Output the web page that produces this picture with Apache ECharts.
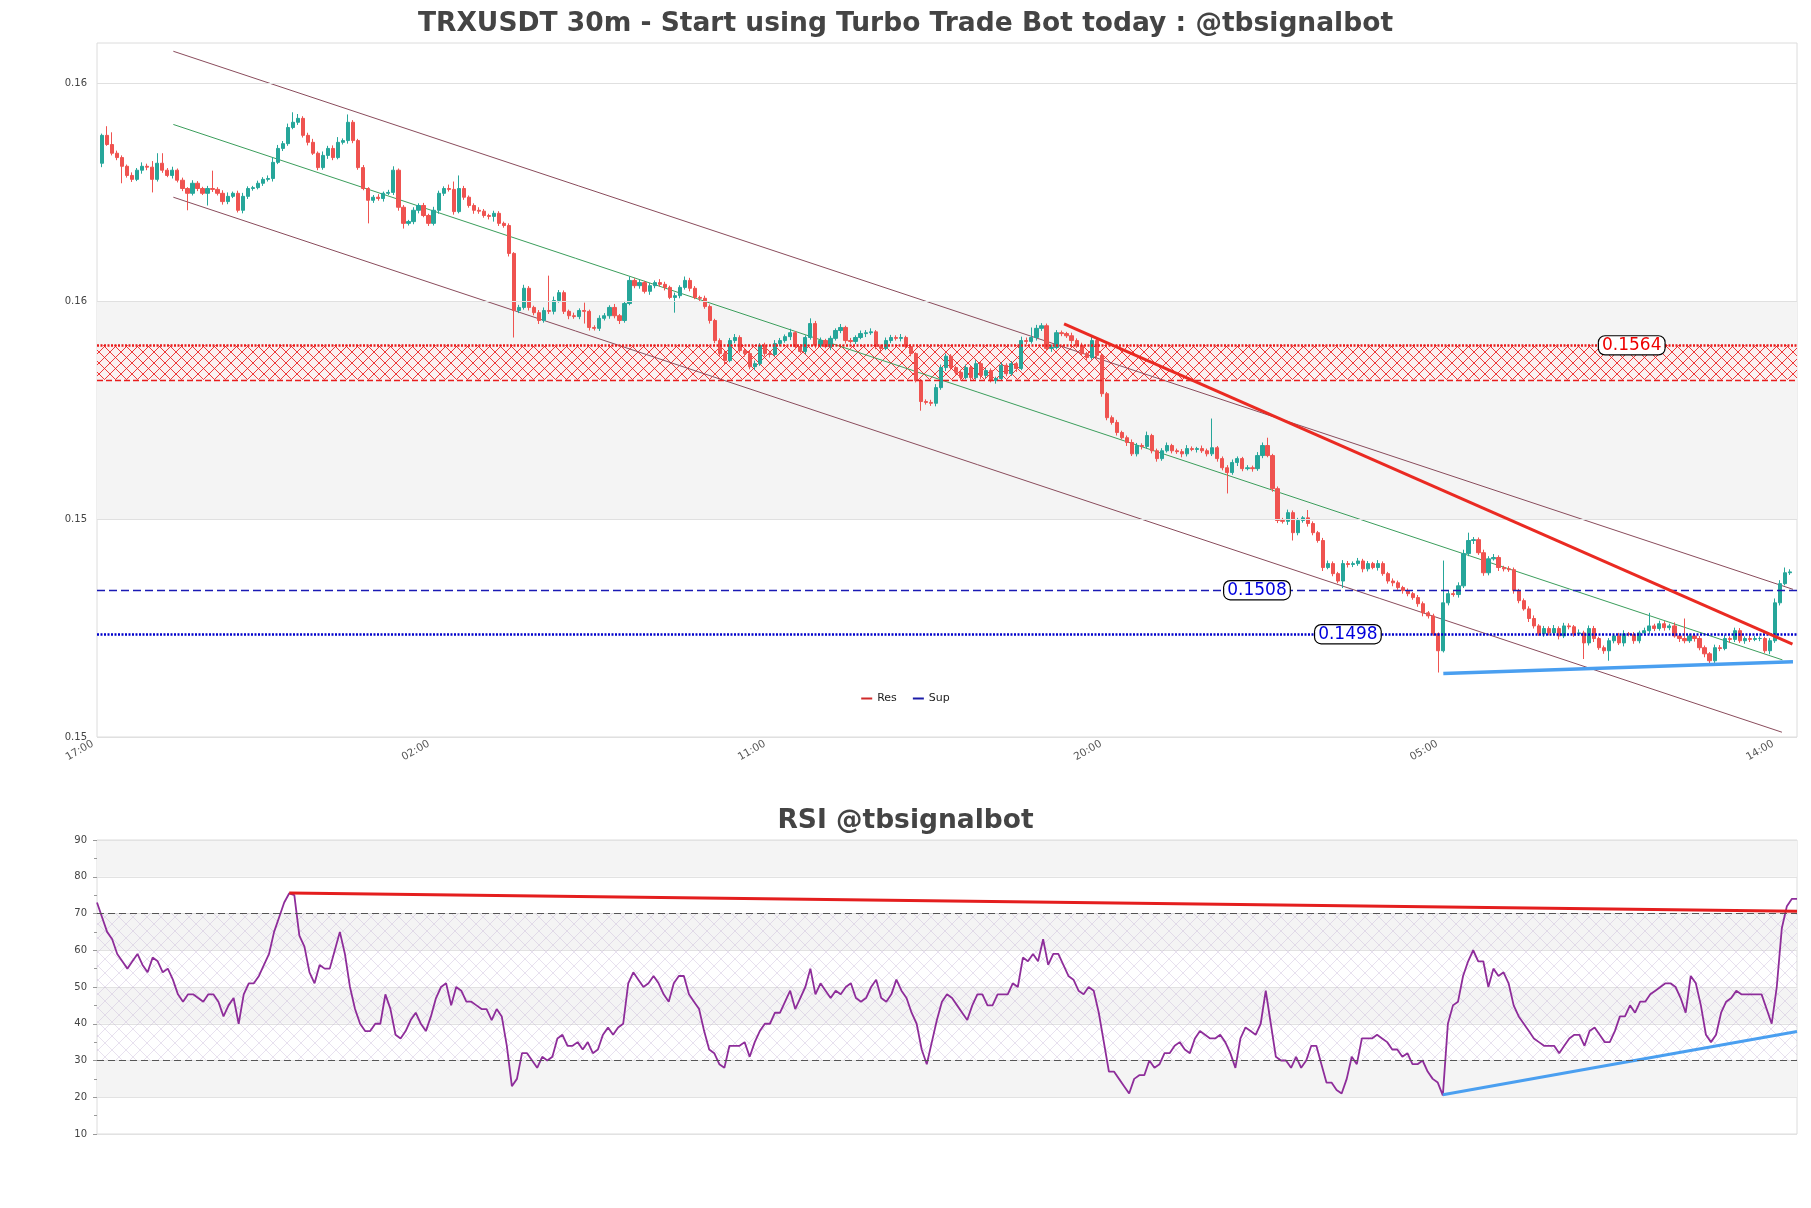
<!DOCTYPE html>
<html><head><meta charset="utf-8">
<script src="https://cdn.jsdelivr.net/npm/echarts@6/dist/echarts.min.js"></script>
<style>html,body{margin:0;padding:0;background:#fff}#c{width:1811px;height:1208px}</style>
</head><body><div id="c"></div>
<script>
// ---------- DATA ----------
const firstOpen = 0.16067;
const closes = [
0.16131,0.16110,0.16090,0.16080,0.16060,0.16039,0.16030,0.16051,0.16060,0.16058,
0.16030,0.16067,0.16051,0.16039,0.16051,0.16028,0.16009,0.15998,0.16021,0.16009,
0.15998,0.16009,0.16007,0.15998,0.15979,0.15991,0.15998,0.15959,0.15991,0.16009,
0.16011,0.16021,0.16030,0.16032,0.16069,0.16101,0.16112,0.16149,0.16161,0.16170,
0.16131,0.16115,0.16090,0.16057,0.16085,0.16101,0.16080,0.16115,0.16119,0.16161,
0.16119,0.16057,0.16009,0.15982,0.15989,0.15986,0.15998,0.16000,0.16051,0.15966,
0.15929,0.15933,0.15959,0.15970,0.15947,0.15929,0.15959,0.15998,0.16009,0.16007,
0.15956,0.16009,0.15989,0.15970,0.15959,0.15957,0.15947,0.15945,0.15952,0.15929,
0.15924,0.15860,0.15729,0.15736,0.15780,0.15736,0.15724,0.15706,0.15729,0.15727,
0.15752,0.15770,0.15727,0.15717,0.15715,0.15729,0.15727,0.15690,0.15688,0.15711,
0.15717,0.15736,0.15717,0.15706,0.15745,0.15798,0.15786,0.15793,0.15773,0.15786,
0.15793,0.15789,0.15782,0.15759,0.15763,0.15782,0.15798,0.15780,0.15759,0.15757,
0.15738,0.15706,0.15660,0.15630,0.15614,0.15660,0.15667,0.15637,0.15630,0.15600,
0.15607,0.15649,0.15630,0.15628,0.15653,0.15660,0.15669,0.15678,0.15646,0.15635,
0.15667,0.15699,0.15649,0.15660,0.15646,0.15665,0.15683,0.15690,0.15660,0.15658,
0.15667,0.15676,0.15678,0.15680,0.15646,0.15642,0.15660,0.15667,0.15665,0.15667,
0.15646,0.15630,0.15568,0.15520,0.15518,0.15516,0.15552,0.15598,0.15624,0.15598,
0.15587,0.15575,0.15598,0.15575,0.15607,0.15580,0.15591,0.15568,0.15573,0.15603,
0.15584,0.15607,0.15596,0.15660,0.15658,0.15667,0.15688,0.15694,0.15642,0.15644,
0.15678,0.15676,0.15671,0.15660,0.15649,0.15630,0.15621,0.15660,0.15626,0.15538,
0.15483,0.15472,0.15449,0.15437,0.15426,0.15400,0.15419,0.15417,0.15442,0.15407,
0.15389,0.15407,0.15419,0.15407,0.15405,0.15400,0.15412,0.15410,0.15412,0.15407,
0.15400,0.15414,0.15389,0.15368,0.15357,0.15380,0.15389,0.15366,0.15368,0.15366,
0.15396,0.15419,0.15396,0.15320,0.15247,0.15245,0.15265,0.15219,0.15247,0.15253,
0.15240,0.15219,0.15201,0.15139,0.15148,0.15125,0.15108,0.15148,0.15146,0.15148,
0.15154,0.15136,0.15148,0.15139,0.15148,0.15125,0.15108,0.15104,0.15093,0.15086,
0.15079,0.15070,0.15056,0.15035,0.15028,0.14987,0.14948,0.15058,0.15079,0.15077,
0.15097,0.15171,0.15201,0.15203,0.15173,0.15127,0.15159,0.15162,0.15139,0.15136,
0.15134,0.15086,0.15063,0.15044,0.15022,0.15005,0.14987,0.14999,0.14989,0.14999,
0.14982,0.15005,0.15003,0.14987,0.14989,0.14966,0.14999,0.14976,0.14955,0.14948,
0.14971,0.14982,0.14966,0.14987,0.14985,0.14971,0.14989,0.14994,0.15005,0.14999,
0.15010,0.15001,0.15005,0.14982,0.14976,0.14971,0.14982,0.14976,0.14955,0.14941,
0.14925,0.14955,0.14953,0.14976,0.14974,0.14994,0.14971,0.14976,0.14974,0.14976,
0.14976,0.14948,0.14971,0.15058,0.15102,0.15127,0.15129
];
const PIP = 0.00001;
const upWickPips = [
4,21,28,6,5,4,7,5,9,6, 14,23,23,5,8,4,6,3,7,5, 4,6,41,5,7,9,4,6,8,5, 4,6,5,7,12,8,6,9,23,10,
5,6,8,4,9,6,7,12,5,18, 5,4,6,3,5,7,4,6,9,4, 5,4,7,5,6,4,8,6,5,9, 18,30,6,4,5,7,5,4,6,5,
4,5,3,6,8,5,4,6,7,80, 9,6,5,4,7,5,18,4,5,7, 6,5,8,4,6,9,5,7,4,6, 5,8,6,4,7,5,9,6,5,4,
6,5,4,5,7,6,8,5,4,6, 7,5,6,4,8,6,5,9,4,6, 5,12,6,7,4,6,5,8,4,6, 5,7,6,8,4,5,7,6,5,8,
4,5,3,4,5,6,8,7,6,5, 4,6,7,5,8,4,6,5,4,7, 5,6,4,9,7,23,8,6,5,7, 6,5,4,7,5,6,4,8,6,5,
4,5,6,4,5,7,6,5,9,4, 5,6,7,4,5,6,8,5,4,7, 5,67,4,5,6,7,5,4,6,5, 8,7,18,4,5,6,7,5,6,4,
18,5,4,6,7,5,4,8,6,5, 7,5,6,4,8,5,4,6,5,4, 5,4,6,5,4,5,3,97,7,6, 8,9,18,6,5,7,6,8,5,4,
6,5,4,5,6,7,4,6,5,8, 5,7,6,4,8,5,7,6,4,5, 6,5,7,8,4,6,5,7,30,5, 7,6,5,8,6,46,5,4,6,5,
4,7,6,8,5,7,6,5,9,6, 5,4,6,10,8,12,6
];
const downWickPips = [
9,3,5,6,39,5,6,4,8,7, 30,5,6,4,7,5,6,39,5,6, 4,28,6,5,7,6,4,5,7,6, 5,4,6,5,7,4,6,5,4,6,
5,7,4,6,5,8,6,4,5,7, 6,5,4,53,6,5,7,4,6,8, 12,5,6,7,4,6,5,8,6,5, 7,4,6,5,8,6,5,7,12,6,
5,7,62,6,5,7,6,8,5,6, 7,5,6,8,5,6,28,7,5,6, 5,7,6,8,5,4,6,7,5,8, 6,5,7,4,35,6,5,7,4,6,
5,7,6,5,8,4,6,5,7,6, 8,5,6,7,4,6,5,8,6,4, 6,5,7,6,4,8,5,6,7,5, 6,4,8,5,6,7,4,6,5,7,
5,6,4,21,5,6,7,5,8,6, 5,7,4,6,5,8,6,4,7,5, 6,5,8,4,6,5,7,6,5,8, 4,6,5,7,6,4,8,5,6,7,
6,5,7,4,8,5,6,7,5,6, 7,5,4,6,5,8,6,4,7,5, 6,5,7,6,48,5,8,6,4,7, 5,6,4,7,6,5,8,18,6,5,
7,6,5,8,4,6,5,16,7,6, 5,8,6,4,7,5,6,8,5,7, 6,5,7,8,6,5,50,4,6,5, 7,5,6,8,5,7,6,4,8,6,
5,7,6,4,8,6,5,7,6,4, 8,5,6,7,5,37,6,8,5,7, 23,6,5,8,4,7,6,5,8,6, 5,7,6,4,8,6,5,7,6,8,
7,5,6,4,8,6,5,7,6,4, 6,5,8,5,6,4,5
];
const rsi = [
73,69,65,63,59,57,55,57,59,56, 54,58,57,54,55,52,48,46,48,48, 47,46,48,48,46,42,45,47,40,48,
51,51,53,56,59,65,69,73,75.5,75, 64,61,54,51,56,55,55,60,65,59, 50,44,40,38,38,40,40,48,44,37,
36,38,41,43,40,38,42,47,50,51, 45,50,49,46,46,45,44,44,41,44, 42,34,23,25,32,32,30,28,31,30,
31,36,37,34,34,35,33,35,32,33, 37,39,37,39,40,51,54,52,50,51, 53,51,48,46,51,53,53,48,46,44,
38,33,32,29,28,34,34,34,35,31, 35,38,40,40,43,43,46,49,44,47, 50,55,48,51,49,47,49,48,50,51,
47,46,47,50,52,47,46,48,52,49, 47,43,40,33,29,35,41,46,48,47, 45,43,41,45,48,48,45,45,48,48,
48,51,50,58,57,59,57,63,56,59, 59,56,53,52,49,48,50,49,43,35, 27,27,25,23,21,25,26,26,30,28,
29,32,32,34,35,33,32,36,38,37, 36,36,37,35,32,28,36,39,38,37, 40,49,40,31,30,30,28,31,28,30,
34,34,29,24,24,22,21,25,31,29, 36,36,36,37,36,35,33,33,31,32, 29,29,30,27,25,24,20.5,40,45,46,
53,57,60,57,57,50,55,53,54,51, 45,42,40,38,36,35,34,34,34,32, 34,36,37,37,34,38,39,37,35,35,
38,42,42,45,43,46,46,48,49,50, 51,51,50,47,43,53,51,45,37,35, 37,43,46,47,49,48,48,48,48,48,
44,40,50,66,72,74,74
];
const timeTickPos = [-0.8, 66.1, 133.0, 199.9, 266.8, 333.7];
const timeTickLabels = ['17:00', '02:00', '11:00', '20:00', '05:00', '14:00'];
const priceTicks = [0.1475, 0.1525, 0.1575, 0.1625];
const grayBand = [0.1525, 0.1575];
const resZone = [0.15570, 0.15649];
const supDashed = 0.15087;
const supDotted = 0.14986;
const levelText = ['0.1564', '0.1508', '0.1498'];
const levelAt = [304.5, 229.9, 248];
const channelUpper = [[14.2, 0.16324], [336.6, 0.15089]];
const channelMid = [[14.2, 0.16156], [334.5, 0.14927]];
const channelLower = [[14.2, 0.15989], [334.4, 0.14761]];
const resTrend = [[191.5, 0.15698], [336.5, 0.14963]];
const supTrend = [[267, 0.14896], [336.6, 0.14923]];
const rsiResTrend = [[38, 75.6], [336, 70.6]];
const rsiSupTrend = [[266, 20.7], [336, 37.9]];
const rsiLevels = [70, 30];
const rsiZone = [30, 70];

// ---------- BUILD ----------
const candleData = closes.map((c, i) => {
  const o = i === 0 ? firstOpen : closes[i - 1];
  const h = Math.max(o, c) + upWickPips[i] * PIP;
  const l = Math.min(o, c) - downWickPips[i] * PIP;
  return [i, o, c, l, h];
});
const rsiData = rsi.map((v, i) => [i, v]);

function hatch(size, color, lw, bg) {
  const cv = document.createElement('canvas');
  cv.width = size; cv.height = size;
  const g = cv.getContext('2d');
  if (bg) { g.fillStyle = bg; g.fillRect(0, 0, size, size); }
  g.strokeStyle = color; g.lineWidth = lw;
  g.beginPath();
  g.moveTo(0, 0); g.lineTo(size, size);
  g.moveTo(size, 0); g.lineTo(0, size);
  g.stroke();
  return cv;
}
const redHatch = hatch(11, 'rgba(235,25,25,0.85)', 1, 'rgba(255,236,236,0.55)');
const rsiHatch = hatch(14, 'rgba(190,170,210,0.45)', 0.8, null);

const FONT = 'DejaVu Sans';
const lineS = (data, color, width, xi, z) => ({
  type: 'line', data, xAxisIndex: xi, yAxisIndex: xi, showSymbol: false, symbol: 'none',
  silent: true, z, lineStyle: { color, width }, itemStyle: { color }
});
const lvlLabel = (text, x, y, color) => ({
  coord: [x, y], value: text, symbol: 'rect', symbolSize: [1, 1],
  itemStyle: { color: 'rgba(0,0,0,0)' },
  label: {
    show: true, position: 'inside', formatter: text, color, fontSize: 17, fontFamily: FONT,
    backgroundColor: '#fff', borderColor: '#000', borderWidth: 1.2, borderRadius: 6,
    padding: [1, 3, 0, 3]
  }
});
const ML = { silent: true, symbol: 'none', precision: 8, label: { show: false } };

const chart = echarts.init(document.getElementById('c'));
chart.setOption({
  animation: false,
  backgroundColor: '#fff',
  textStyle: { fontFamily: FONT },
  title: [
    { text: 'TRXUSDT 30m - Start using Turbo Trade Bot today : @tbsignalbot', left: 'center', top: 11, padding: 0,
      textStyle: { fontSize: 26.5, fontWeight: 'bold', color: '#444', fontFamily: FONT } },
    { text: 'RSI @tbsignalbot', left: 'center', top: 808, padding: 0,
      textStyle: { fontSize: 26.5, fontWeight: 'bold', color: '#444', fontFamily: FONT } }
  ],
  legend: {
    data: ['Res', 'Sup'], left: 'center', top: 688, icon: 'rect', itemWidth: 11, itemHeight: 2,
    itemGap: 16, textStyle: { fontSize: 11, color: '#222', fontFamily: FONT }, selectedMode: false
  },
  grid: [
    { left: 97, top: 43, width: 1700, height: 694, show: true, borderColor: '#dcdcdc', borderWidth: 1, backgroundColor: '#fff' },
    { left: 97, top: 840, width: 1700, height: 294, show: true, borderColor: '#dcdcdc', borderWidth: 1, backgroundColor: '#fff' }
  ],
  xAxis: [
    { type: 'value', gridIndex: 0, min: -1, max: 337.4,
      axisLine: { show: false }, splitLine: { show: false },
      axisTick: { show: false, customValues: timeTickPos },
      axisLabel: { customValues: timeTickPos, rotate: 30, fontSize: 10.5, color: '#555', margin: 3,
        padding: [0, 6, 0, 0], showMinLabel: true,
        formatter: v => { const k = timeTickPos.findIndex(t => Math.abs(t - v) < 0.01); return k >= 0 ? timeTickLabels[k] : ''; } } },
    { type: 'value', gridIndex: 1, min: 0, max: 336,
      axisLine: { show: false }, splitLine: { show: false }, axisTick: { show: false }, axisLabel: { show: false } }
  ],
  yAxis: [
    { type: 'value', gridIndex: 0, min: 0.1475, max: 0.16343, scale: true,
      axisLine: { show: false }, splitLine: { show: false },
      axisTick: { show: false, customValues: priceTicks },
      axisLabel: { customValues: priceTicks, fontSize: 10, color: '#444', margin: 10, formatter: v => v.toFixed(2) } },
    { type: 'value', gridIndex: 1, min: 10, max: 90, interval: 10,
      axisLine: { show: false },
      axisTick: { show: true, length: 4, lineStyle: { color: '#999' } },
      minorTick: { show: true, splitNumber: 2, length: 3, lineStyle: { color: '#999' } },
      splitLine: { show: true, lineStyle: { color: '#e2e2e2' } },
      splitArea: { show: true, areaStyle: { color: ['rgba(255,255,255,0)', '#f4f4f4'] } },
      axisLabel: { fontSize: 10, color: '#444', margin: 10 } }
  ],
  series: [
    { type: 'line', data: [], xAxisIndex: 0, yAxisIndex: 0, silent: true, z: 0,
      markArea: { silent: true, itemStyle: { color: '#f4f4f4' }, data: [[{ yAxis: grayBand[0] }, { yAxis: grayBand[1] }]] },
      markLine: Object.assign({}, ML, { lineStyle: { color: '#e0e0e0', width: 1, type: 'solid' },
        data: priceTicks.map(v => ({ yAxis: v })) }) },
    { name: 'Res', type: 'line', data: [], xAxisIndex: 0, yAxisIndex: 0, color: '#d02a2a', z: 2, silent: true,
      markArea: { silent: true, itemStyle: { color: { image: redHatch, repeat: 'repeat' } },
        data: [[{ yAxis: resZone[0] }, { yAxis: resZone[1] }]] },
      markLine: Object.assign({}, ML, { data: [
        { yAxis: resZone[1], lineStyle: { color: '#e81c1c', width: 2.5, type: [2, 1.5] } },
        { yAxis: resZone[0], lineStyle: { color: '#e81c1c', width: 1.3, type: [6, 3] } }
      ] }) },
    { name: 'Sup', type: 'line', data: [], xAxisIndex: 0, yAxisIndex: 0, color: '#1c1ca8', z: 2, silent: true,
      markLine: Object.assign({}, ML, { data: [
        { yAxis: supDashed, lineStyle: { color: '#1a1ab4', width: 1.3, type: [8, 4] } },
        { yAxis: supDotted, lineStyle: { color: '#0000cc', width: 2.5, type: [2, 1.5] } }
      ] }) },
    lineS(channelUpper, '#8a4c5c', 1, 0, 3),
    lineS(channelMid, '#3b9e5c', 1, 0, 3),
    lineS(channelLower, '#8a4c5c', 1, 0, 3),
    { type: 'candlestick', xAxisIndex: 0, yAxisIndex: 0, z: 4, silent: true,
      data: candleData, encode: { x: 0, y: [1, 2, 3, 4] }, barWidth: 3.7,
      itemStyle: { color: '#26a69a', color0: '#ef5350', borderColor: '#26a69a', borderColor0: '#ef5350', borderWidth: 1 } },
    lineS(resTrend, '#ea2a22', 3, 0, 5),
    lineS(supTrend, '#4a9ff0', 3.5, 0, 5),
    { type: 'line', data: [], xAxisIndex: 0, yAxisIndex: 0, z: 7, silent: true,
      markPoint: { silent: true, data: [
        lvlLabel(levelText[0], levelAt[0], resZone[1], '#ee0000'),
        lvlLabel(levelText[1], levelAt[1], supDashed, '#0000dd'),
        lvlLabel(levelText[2], levelAt[2], supDotted, '#0000dd')
      ] } },
    // RSI
    { type: 'line', data: [], xAxisIndex: 1, yAxisIndex: 1, z: 1, silent: true,
      markArea: { silent: true, itemStyle: { color: { image: rsiHatch, repeat: 'repeat' } },
        data: [[{ yAxis: rsiZone[0] }, { yAxis: rsiZone[1] }]] },
      markLine: Object.assign({}, ML, { lineStyle: { color: '#555', width: 1.2, type: [7, 4] },
        data: rsiLevels.map(v => ({ yAxis: v })) }) },
    lineS(rsiData, '#8e2d9a', 1.8, 1, 3),
    lineS(rsiResTrend, '#e41e1e', 3, 1, 4),
    lineS(rsiSupTrend, '#4a9ff0', 3, 1, 4)
  ]
});
</script>
</body></html>
